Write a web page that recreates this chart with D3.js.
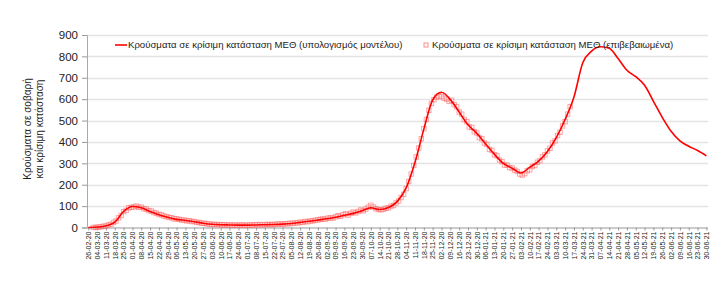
<!DOCTYPE html>
<html>
<head>
<meta charset="utf-8">
<script src="https://cdn.jsdelivr.net/npm/d3@7"></script>
<style>
  body { margin: 0; background: #fff; }
  text { font-family: "Liberation Sans", Arial, sans-serif; }
</style>
</head>
<body>
<script>
// weekly model estimate, from 26-02-20 to 30-06-21
const modelStart = "2020-02-26";
const modelValues = [
  0, 2, 8, 25, 75, 98, 92, 75, 60, 48,
  38, 33, 27, 20, 15, 13, 12, 11, 11, 12,
  13, 14, 16, 19, 24, 29, 35, 41, 48, 57,
  66, 78, 92, 84, 93, 122, 185, 305, 460, 596,
  632, 598, 540, 480, 440, 390, 342, 300, 277, 255,
  282, 310, 355, 420, 505, 610, 770, 825, 845, 838,
  790, 735, 705, 665, 590, 515, 450, 405, 380, 360,
  335
];

// confirmed cases, one every 2 days from 01-03-20
const confirmedStart = "2020-03-01";
const confirmedStep = 2;
const confirmedValues = [
  0, 1, 2, 3, 6, 7, 12, 15, 24, 30, 45, 56, 74, 80, 92, 94,
  96, 100, 94, 95, 88, 86, 79, 77, 70, 67, 61, 59, 54, 51, 47, 46, 41, 40,
  38, 35, 35, 31, 32, 28, 28, 24, 23, 20, 20, 17, 16, 14, 15, 13, 14, 12, 13, 11, 12, 10, 12, 10, 11, 12, 10, 11,
  12, 11, 13, 12, 14, 12, 13, 15, 13, 15, 14, 16, 17, 15, 18, 17, 20, 19, 22, 21, 25, 24, 28, 27, 31, 31, 34, 36,
  38, 40, 39, 44, 45, 44, 50, 55, 52, 60, 64, 58, 66, 72, 68, 75, 82, 78, 86, 95, 104, 96, 88, 84, 83,
  85, 90, 92, 100, 103, 115, 124, 140, 155, 182, 215, 250, 290, 330, 372, 415, 462, 505, 548, 580, 598, 610, 615, 612,
  605, 600, 590, 595, 575, 565, 540, 530, 505, 495, 470, 468, 448, 442, 420, 415, 395, 388, 365, 360,
  340, 335, 315, 308, 292, 292, 280, 278, 268, 262,
  250, 245, 252, 265, 270, 285, 290, 305, 312, 330, 340, 358, 370, 395, 405, 430, 445, 475, 495, 530, 565
];

const yTicks = [0, 100, 200, 300, 400, 500, 600, 700, 800, 900];
const legendLine = "Κρούσματα σε κρίσιμη κατάσταση ΜΕΘ (υπολογισμός μοντέλου)";
const legendDots = "Κρούσματα σε κρίσιμη κατάσταση ΜΕΘ (επιβεβαιωμένα)";
const yTitle = ["Κρούσματα σε σοβαρή", "και κρίσιμη κατάσταση"];

const width = 720, height = 286;
const parse = d3.utcParse("%Y-%m-%d");
const fmt = d3.utcFormat("%d-%m-%y");

const t0 = parse(modelStart);
const modelData = modelValues.map((v, i) => ({ date: d3.utcDay.offset(t0, 7 * i), value: v }));
const c0 = parse(confirmedStart);
const confirmedData = confirmedValues.map((v, i) => ({ date: d3.utcDay.offset(c0, confirmedStep * i), value: v }));
const tickDates = modelData.map(d => d.date);

const svg = d3.select("body").append("svg")
  .attr("width", width)
  .attr("height", height);

const x = d3.scaleUtc()
  .domain([tickDates[0], tickDates[tickDates.length - 1]])
  .range([88.3, 706.4]);

const y = d3.scaleLinear()
  .domain([0, 900])
  .range([227.5, 35]);

const plotLeft = 87, plotRight = 708;

// grid
svg.append("g")
  .selectAll("line")
  .data(yTicks.filter(d => d > 0))
  .join("line")
  .attr("x1", plotLeft).attr("x2", plotRight)
  .attr("y1", d => Math.round(y(d)) + 0.5).attr("y2", d => Math.round(y(d)) + 0.5)
  .attr("stroke", "#e4e4e4")
  .attr("stroke-width", 1.5);

// y axis
const yAxis = svg.append("g")
  .attr("transform", `translate(${plotLeft},0)`);
yAxis.call(d3.axisLeft(y).tickValues(d3.range(0, 901, 20)).tickSize(3).tickFormat(""));
yAxis.call(d3.axisLeft(y).tickValues(yTicks).tickSize(5).tickPadding(4));
yAxis.selectAll(".domain").attr("stroke", "#aaa");
yAxis.selectAll(".tick line").attr("stroke", "#999");
yAxis.selectAll(".tick text")
  .attr("fill", "#222")
  .style("font-size", "11.5px")
  .style("font-family", "'Liberation Sans', Arial, sans-serif");

// x axis
const xAxis = svg.append("g")
  .attr("transform", `translate(0,${y(0)})`)
  .call(d3.axisBottom(x).tickValues(tickDates).tickFormat(fmt).tickSize(3).tickSizeOuter(0));
xAxis.select(".domain").attr("stroke", "#bbb").attr("stroke-width", 1.5)
  .attr("d", `M${plotLeft},0.5H${plotRight}`);
xAxis.selectAll(".tick line").attr("stroke", "#999");
xAxis.selectAll(".tick text")
  .attr("fill", "#222")
  .style("font-size", "7px")
  .style("font-family", "'Liberation Sans', Arial, sans-serif")
  .attr("transform", "rotate(-90)")
  .attr("text-anchor", "end")
  .attr("x", -4)
  .attr("y", 0)
  .attr("dy", "0.33em");

// y title
svg.append("g")
  .attr("transform", "translate(31,129) rotate(-90)")
  .selectAll("text")
  .data(yTitle)
  .join("text")
  .attr("y", (d, i) => i * 11.5)
  .attr("text-anchor", "middle")
  .attr("fill", "#222")
  .style("font-size", "10px")
  .text(d => d);

// confirmed markers
svg.append("g")
  .selectAll("rect")
  .data(confirmedData)
  .join("rect")
  .attr("x", d => x(d.date) - 2.2)
  .attr("y", d => y(d.value) - 2.2)
  .attr("width", 4.4)
  .attr("height", 4.4)
  .attr("fill", "none")
  .attr("stroke", "#ff5a5a")
  .attr("stroke-opacity", 0.55)
  .attr("stroke-width", 1);

// model line
const line = d3.line()
  .x(d => x(d.date))
  .y(d => y(d.value))
  .curve(d3.curveMonotoneX);

svg.append("path")
  .datum(modelData)
  .attr("d", line)
  .attr("fill", "none")
  .attr("stroke", "#ff0000")
  .attr("stroke-width", 1.6);

// legend
const legend = svg.append("g").attr("transform", "translate(0,45)");
legend.append("line")
  .attr("x1", 115).attr("x2", 127)
  .attr("stroke", "#ff0000").attr("stroke-width", 1.6);
legend.append("text")
  .attr("x", 128).attr("dy", "0.35em")
  .attr("fill", "#222").style("font-size", "9.6px")
  .text(legendLine);
legend.append("rect")
  .attr("x", 424).attr("y", -2).attr("width", 4).attr("height", 4)
  .attr("fill", "none").attr("stroke", "#ff5a5a").attr("stroke-opacity", 0.7);
legend.append("text")
  .attr("x", 432).attr("dy", "0.35em")
  .attr("fill", "#222").style("font-size", "9.6px")
  .text(legendDots);
</script>
</body>
</html>
